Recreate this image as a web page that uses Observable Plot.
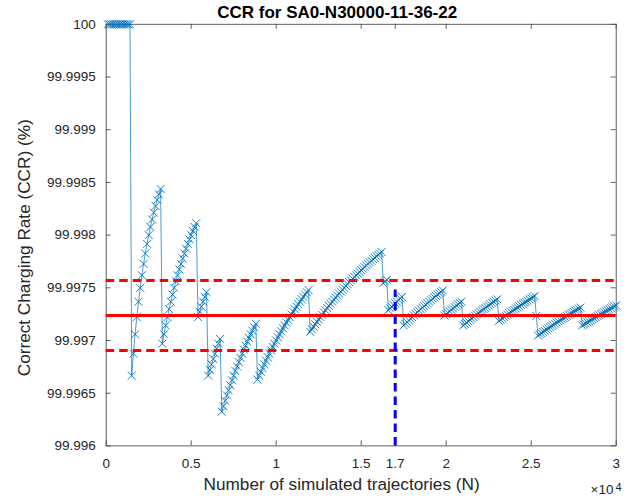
<!DOCTYPE html>
<html>
<head>
<meta charset="utf-8">
<script src="https://cdn.jsdelivr.net/npm/d3@7"></script>
<script src="https://cdn.jsdelivr.net/npm/@observablehq/plot@0.6"></script>
<style>
  html, body { margin: 0; padding: 0; background: #fff; }
  #chart svg { display: block; }
</style>
</head>
<body>
<div id="chart"></div>
<script>
// Number of simulated trajectories (sampled every 100)
const trajectories = d3.range(100, 30001, 100);

// CCR (%), one value per sample
const ccr = [
  100, 100, 100, 100, 100, 100, 100, 100, 100, 100, 100, 100, 100, 100,
  99.996667, 99.996875, 99.997059, 99.997222, 99.997368, 99.9975, 99.997619, 99.997727, 99.997826,
  99.997917, 99.998, 99.998077, 99.998148, 99.998214, 99.998276, 99.998333, 99.998387, 99.998438,
  99.996970, 99.997059, 99.997143, 99.997222, 99.997297, 99.997368, 99.997436, 99.9975, 99.997561,
  99.997619, 99.997674, 99.997727, 99.997778, 99.997826, 99.997872, 99.997917, 99.997959, 99.998,
  99.998039, 99.998077, 99.998113,
  99.997222, 99.997273, 99.997321, 99.997368, 99.997414, 99.997458,
  99.996667, 99.996721, 99.996774, 99.996825, 99.996875, 99.996923, 99.996970, 99.997015,
  99.996324, 99.996377, 99.996429, 99.996479, 99.996528, 99.996575, 99.996622, 99.996667, 99.996711,
  99.996753, 99.996795, 99.996835, 99.996875, 99.996914, 99.996951, 99.996988, 99.997024, 99.997059,
  99.997093, 99.997126, 99.997159,
  99.996629, 99.996667, 99.996703, 99.996739, 99.996774, 99.996809, 99.996842, 99.996875, 99.996907,
  99.996939, 99.996970, 99.997, 99.997030, 99.997059, 99.997087, 99.997115, 99.997143, 99.997170,
  99.997196, 99.997222, 99.997248, 99.997273, 99.997297, 99.997321, 99.997345, 99.997368, 99.997391,
  99.997414, 99.997436, 99.997458, 99.997479,
  99.997083, 99.997107, 99.997131, 99.997154, 99.997177, 99.9972, 99.997222, 99.997244, 99.997266,
  99.997287, 99.997308, 99.997328, 99.997348, 99.997368, 99.997388, 99.997407, 99.997426, 99.997445,
  99.997464, 99.997482, 99.9975, 99.997518, 99.997535, 99.997552, 99.997569, 99.997586, 99.997603,
  99.997619, 99.997635, 99.997651, 99.997667, 99.997682, 99.997697, 99.997712, 99.997727, 99.997742,
  99.997756, 99.997771, 99.997785, 99.997799, 99.997813, 99.997826, 99.997840,
  99.997546, 99.997561, 99.997576,
  99.997289, 99.997305, 99.997321, 99.997337, 99.997353, 99.997368, 99.997384, 99.997399, 99.997414,
  99.997143, 99.997159, 99.997175, 99.997191, 99.997207, 99.997222, 99.997238, 99.997253, 99.997268,
  99.997283, 99.997297, 99.997312, 99.997326, 99.997340, 99.997354, 99.997368, 99.997382, 99.997396,
  99.997409, 99.997423, 99.997436, 99.997449, 99.997462, 99.997475,
  99.997236, 99.99725, 99.997264, 99.997277, 99.997291, 99.997304, 99.997317, 99.997330, 99.997343,
  99.997356, 99.997368,
  99.997143, 99.997156, 99.997170, 99.997183, 99.997196, 99.997209, 99.997222, 99.997235, 99.997248,
  99.997260, 99.997273, 99.997285, 99.997297, 99.997309, 99.997321, 99.997333, 99.997345, 99.997357,
  99.997368, 99.997380, 99.997391,
  99.997186, 99.997198, 99.997210, 99.997222, 99.997234, 99.997246, 99.997257, 99.997269, 99.997280,
  99.997292, 99.997303, 99.997314, 99.997325, 99.997336, 99.997347, 99.997358, 99.997368, 99.997379,
  99.997390, 99.9974, 99.997410, 99.997421,
  99.997233,
  99.997047, 99.997059, 99.997070, 99.997082, 99.997093, 99.997104, 99.997115, 99.997126, 99.997137,
  99.997148, 99.997159, 99.997170, 99.997180, 99.997191, 99.997201, 99.997212, 99.997222, 99.997232,
  99.997243, 99.997253, 99.997263, 99.997273, 99.997283, 99.997292, 99.997302, 99.997312,
  99.997143, 99.997153, 99.997163, 99.997173, 99.997183, 99.997193, 99.997203, 99.997213, 99.997222,
  99.997232, 99.997241, 99.997251, 99.997260, 99.997270, 99.997279, 99.997288, 99.997297, 99.997306,
  99.997315, 99.997324, 99.997333
];

// Reference lines
const meanCCR = [99.997237];
const boundsCCR = [99.997569, 99.996905];
const markerN = [17000];
const markerTop = 99.99748;

// Ticks
const xTicks = [0, 5000, 10000, 15000, 17000, 20000, 25000, 30000];
const xTickLabels = ["0", "0.5", "1", "1.5", "1.7", "2", "2.5", "3"];
const yTicks = [99.996, 99.9965, 99.997, 99.9975, 99.998, 99.9985, 99.999, 99.9995, 100];
const yTickLabels = ["99.996", "99.9965", "99.997", "99.9975", "99.998", "99.9985", "99.999", "99.9995", "100"];

const titleText = "CCR for SA0-N30000-11-36-22";
const xLabel = "Number of simulated trajectories (N)";
const yLabel = "Correct Charging Rate (CCR) (%)";

const data = trajectories.map((n, i) => ({n, v: ccr[i]}));

const W = 631, H = 497;
const mL = 105.7, mR = 15.3, mT = 23.8, mB = 51.6;
const pw = W - mL - mR, ph = H - mT - mB;
const axisColor = "#262626";
const blue = "#0072BD";

const chart = Plot.plot({
  width: W, height: H,
  marginLeft: mL, marginRight: mR, marginTop: mT, marginBottom: mB,
  x: {domain: [0, 30000], axis: null},
  y: {domain: [99.996, 100], axis: null},
  style: {fontFamily: "'Liberation Sans', Arial, Helvetica, sans-serif", background: "#fff", color: axisColor},
  marks: [
    Plot.frame({stroke: "#4d4d4d", strokeWidth: 0.9}),
    // inward ticks, all four sides
    Plot.tickX(xTicks, {x: d => d, insetTop: ph - 5, stroke: "#4d4d4d", strokeWidth: 0.9}),
    Plot.tickX(xTicks, {x: d => d, insetBottom: ph - 5, stroke: "#4d4d4d", strokeWidth: 0.9}),
    Plot.tickY(yTicks, {y: d => d, insetRight: pw - 5, stroke: "#4d4d4d", strokeWidth: 0.9}),
    Plot.tickY(yTicks, {y: d => d, insetLeft: pw - 5, stroke: "#4d4d4d", strokeWidth: 0.9}),
    // data
    Plot.line(data, {x: "n", y: "v", stroke: blue, strokeWidth: 0.7}),
    Plot.dot(data, {x: "n", y: "v", symbol: "times", r: 3.7, stroke: blue, strokeWidth: 0.9}),
    // reference lines
    Plot.ruleY(meanCCR, {y: d => d, stroke: "#FF0000", strokeWidth: 3}),
    Plot.ruleY(boundsCCR, {y: d => d, stroke: "#FF0000", strokeWidth: 3, strokeDasharray: "8.5,5"}),
    Plot.ruleX(markerN, {x: d => d, y1: 99.996, y2: markerTop, stroke: "#0000FF", strokeWidth: 3, strokeDasharray: "8.5,5"}),
    // tick labels
    Plot.text(xTicks, {x: d => d, frameAnchor: "bottom", text: (d, i) => xTickLabels[i], dy: 22.3, lineAnchor: "bottom", fontSize: 13.5, fill: axisColor}),
    Plot.text(yTicks, {y: d => d, frameAnchor: "left", text: (d, i) => yTickLabels[i], dx: -10.5, textAnchor: "end", lineAnchor: "middle", fontSize: 13.5, fill: axisColor}),
    // labels
    Plot.text([xLabel], {frameAnchor: "bottom", text: d => d, dx: -19.6, dy: 43.9, lineAnchor: "bottom", fontSize: 17.2, fill: axisColor}),
    Plot.text([yLabel], {frameAnchor: "left", text: d => d, rotate: -90, dx: -76.4, dy: 12.7, textAnchor: "middle", lineAnchor: "bottom", fontSize: 17.2, fill: axisColor}),
    Plot.text([titleText], {frameAnchor: "top", text: d => d, dx: -24, dy: -6.5, lineAnchor: "bottom", fontSize: 17, fontWeight: "bold", fill: "#000"}),
    Plot.text(["\u00d710"], {frameAnchor: "bottom-right", text: d => d, dx: -2.7, dy: 47.6, textAnchor: "end", lineAnchor: "bottom", fontSize: 13.5, fill: axisColor}),
    Plot.text(["4"], {frameAnchor: "bottom-right", text: d => d, dx: -0.7, dy: 44.6, textAnchor: "start", lineAnchor: "bottom", fontSize: 11, fill: axisColor})
  ]
});

document.getElementById("chart").appendChild(chart);
</script>
</body>
</html>
